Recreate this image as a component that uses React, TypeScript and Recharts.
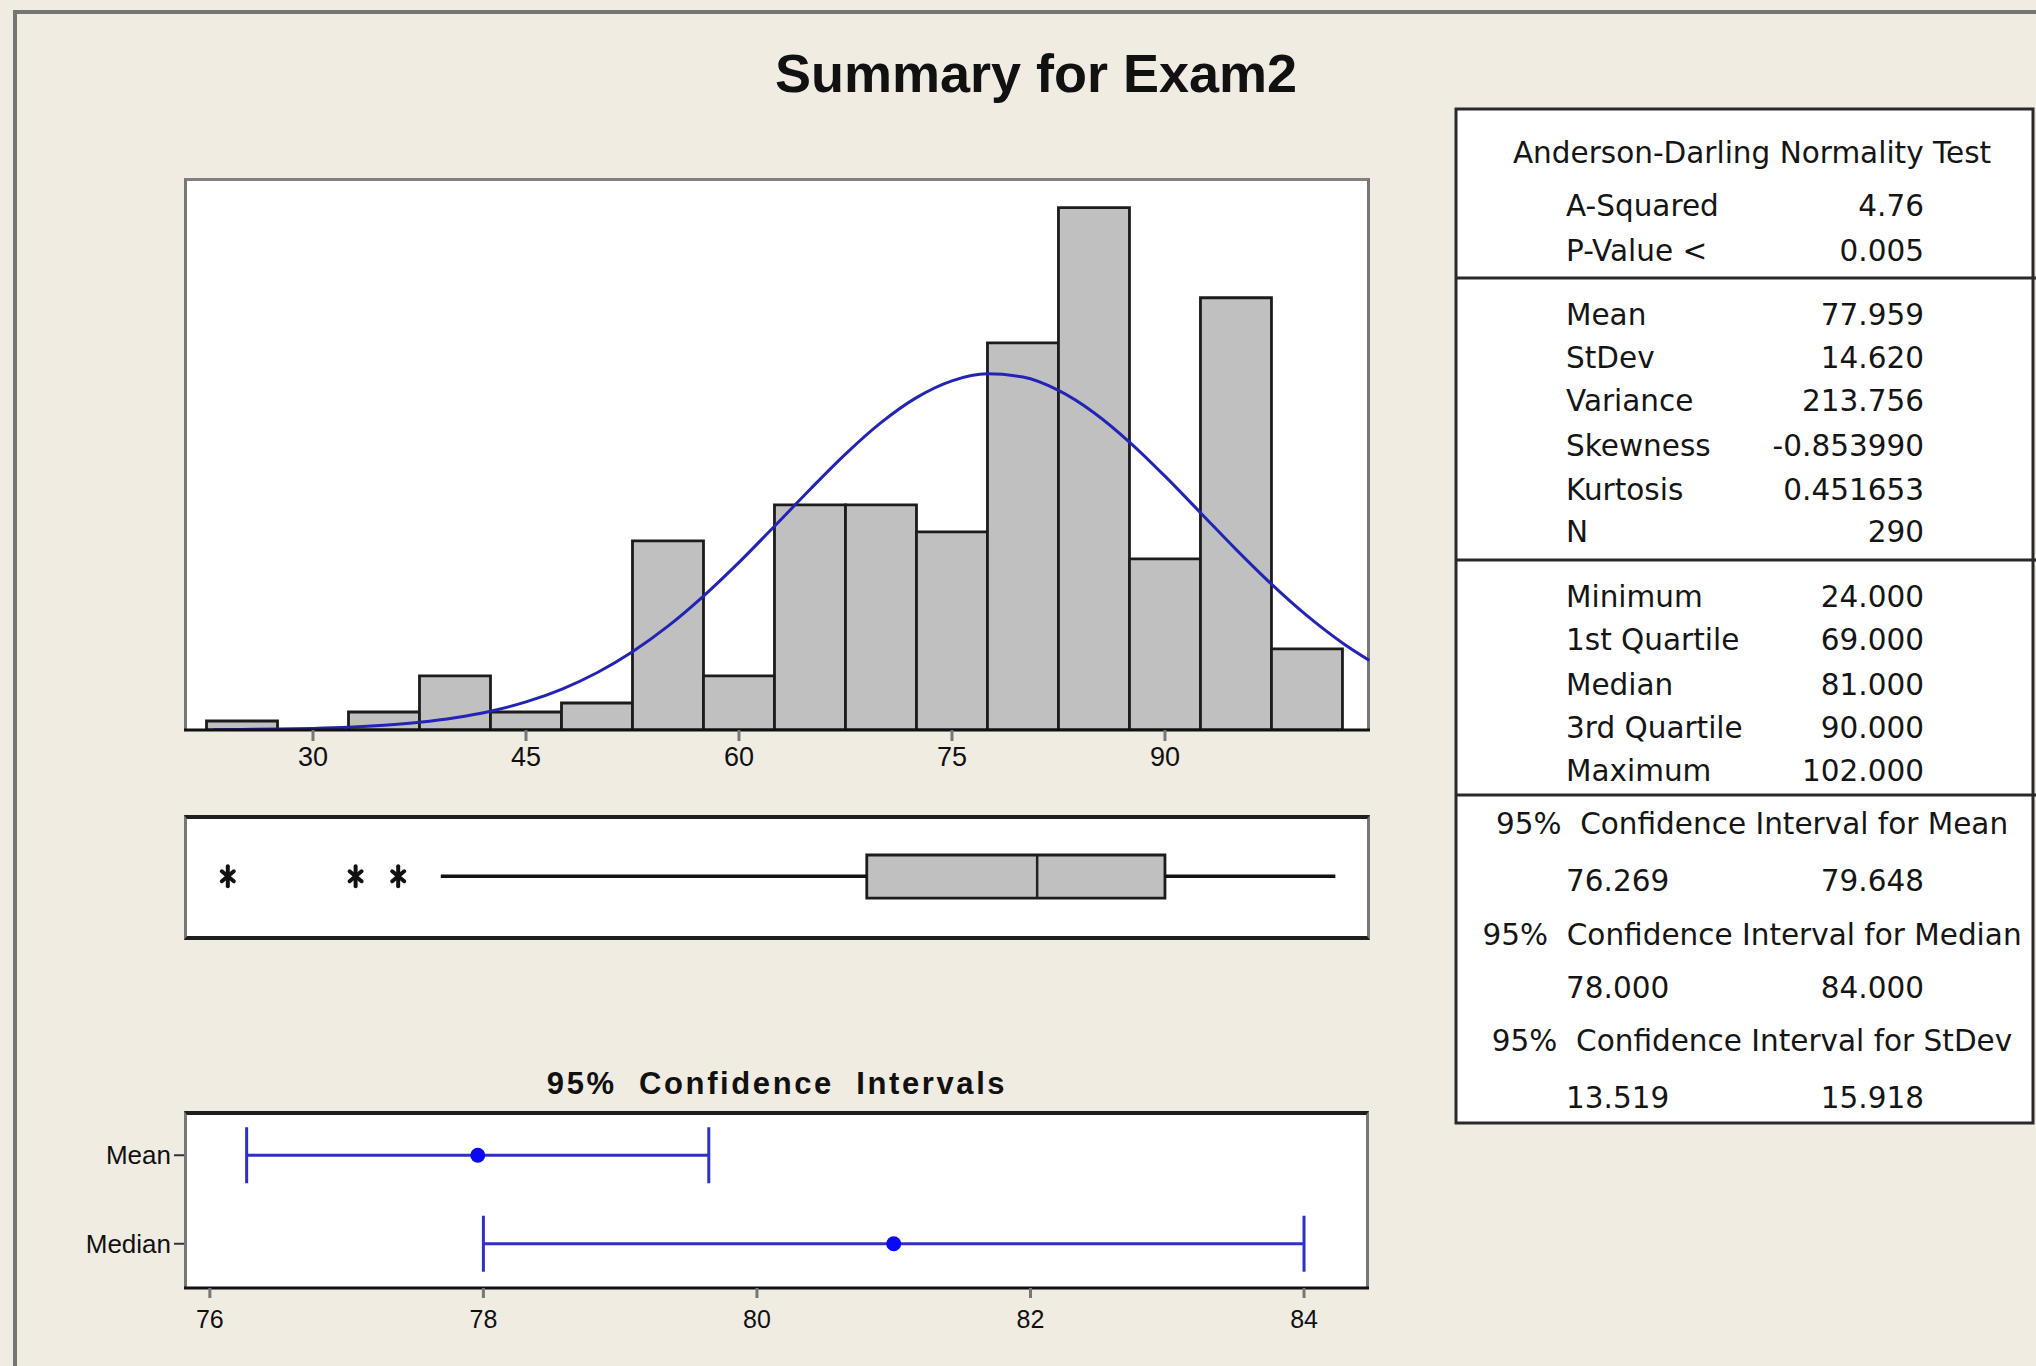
import React from 'react';
import {
  Bar, ComposedChart, ErrorBar, Line, ReferenceArea, ReferenceLine,
  Scatter, ScatterChart, XAxis, YAxis,
} from 'recharts';

// histogram bins (width 5), counts
const binMids = [25, 30, 35, 40, 45, 50, 55, 60, 65, 70, 75, 80, 85, 90, 95, 100];
const binCounts = [1, 0, 2, 6, 2, 3, 21, 6, 25, 25, 22, 43, 58, 19, 48, 9];
const binWidth = 5;

// fitted normal curve
const fitX = [23, 25, 27.5, 30, 32.5, 35, 37.5, 40, 42.5, 45, 47.5, 50, 52.5, 55, 57.5, 60, 62.5, 65, 67.5, 70, 72.5, 75, 77.5, 80, 82.5, 85, 87.5, 90, 92.5, 95, 97.5, 100, 102.5, 104.4];
const fitY = [0.03, 0.06, 0.1, 0.18, 0.31, 0.53, 0.86, 1.36, 2.09, 3.12, 4.52, 6.36, 8.69, 11.53, 14.87, 18.61, 22.63, 26.71, 30.64, 34.13, 36.91, 38.77, 39.55, 39.19, 37.71, 35.24, 31.98, 28.19, 24.13, 20.06, 16.2, 12.7, 9.67, 7.72];

const histTicks = [30, 45, 60, 75, 90];

// boxplot
const boxQ1 = 69;
const boxMedian = 81;
const boxQ3 = 90;
const whiskerLow = 39;
const whiskerHigh = 102;
const outliers = [24, 33, 36];

// 95% confidence intervals
const ciNames = ['Mean', 'Median'];
const ciPoint = [77.959, 81];
const ciLow = [76.269, 78];
const ciHigh = [79.648, 84];
const ciTicks = [76, 78, 80, 82, 84];

// summary table
const adLabels = ['A-Squared', 'P-Value <'];
const adValues = ['4.76', '0.005'];
const momentLabels = ['Mean', 'StDev', 'Variance', 'Skewness', 'Kurtosis', 'N'];
const momentValues = ['77.959', '14.620', '213.756', '-0.853990', '0.451653', '290'];
const quantLabels = ['Minimum', '1st Quartile', 'Median', '3rd Quartile', 'Maximum'];
const quantValues = ['24.000', '69.000', '81.000', '90.000', '102.000'];
const ciTitles = ['95%  Confidence Interval for Mean', '95%  Confidence Interval for Median', '95%  Confidence Interval for StDev'];
const ciTableLow = ['76.269', '78.000', '13.519'];
const ciTableHigh = ['79.648', '84.000', '15.918'];

// layout
const X_MIN = 20.915;
const X_MAX = 104.44;
const Y_MAX = 61.3;
const HIST = { left: 184, top: 178, width: 1186, height: 552 };
const BOX = { left: 184, top: 815, width: 1186, height: 125 };
const CI = { left: 184, top: 1111, width: 1185, height: 177 };
const CI_MIN = 75.811;
const CI_MAX = 84.475;
const pxPerUnit = HIST.width / (X_MAX - X_MIN);

const adRowsY = [216, 261];
const momentRowsY = [325, 368, 411, 456, 500, 542];
const quantRowsY = [607, 650, 695, 738, 781];
const ciTitleY = [834, 945, 1051];
const ciValY = [891, 998, 1108];
const dividersY = [278, 560, 795];

const BG = '#F0ECE2';
const tableFont = '"DejaVu Sans", sans-serif';
const chartFont = '"Liberation Sans", Arial, sans-serif';

const histData = binMids.map((mid, i) => ({ mid, count: binCounts[i] }));
const fitData = fitX.map((mid, i) => ({ mid, fit: fitY[i] }));
const outlierData = outliers.map((x) => ({ x, y: 0.51 }));
const ciData = ciNames.map((name, i) => ({
  name,
  est: ciPoint[i],
  err: [ciPoint[i] - ciLow[i], ciHigh[i] - ciPoint[i]],
}));

const Asterisk = (props: any) => {
  const { cx, cy } = props;
  return (
    <g stroke="#111" strokeWidth={4} strokeLinecap="round">
      <line x1={cx} y1={cy - 10} x2={cx} y2={cy + 10} />
      <line x1={cx - 6} y1={cy - 5} x2={cx + 6} y2={cy + 5} />
      <line x1={cx - 6} y1={cy + 5} x2={cx + 6} y2={cy - 5} />
    </g>
  );
};

const CiDot = (props: any) => <circle cx={props.cx} cy={props.cy} r={7.5} fill="#0a0aee" />;

function SummaryTable() {
  const labelX = 1566;
  const valueX = 1924;
  const midX = 1752;
  const txt = { fontFamily: tableFont, fontSize: 29.5, fill: '#151515' };
  return (
    <g>
      <rect x={1456} y={109} width={577} height={1014} fill="#fff" stroke="#2a2a2a" strokeWidth={3} />
      {dividersY.map((y) => (
        <line key={y} x1={1456} x2={2036} y1={y} y2={y} stroke="#2a2a2a" strokeWidth={3} />
      ))}
      <text x={midX} y={163} textAnchor="middle" {...txt}>Anderson-Darling Normality Test</text>
      {adLabels.map((l, i) => (
        <g key={l}>
          <text x={labelX} y={adRowsY[i]} {...txt}>{l}</text>
          <text x={valueX} y={adRowsY[i]} textAnchor="end" {...txt}>{adValues[i]}</text>
        </g>
      ))}
      {momentLabels.map((l, i) => (
        <g key={l}>
          <text x={labelX} y={momentRowsY[i]} {...txt}>{l}</text>
          <text x={valueX} y={momentRowsY[i]} textAnchor="end" {...txt}>{momentValues[i]}</text>
        </g>
      ))}
      {quantLabels.map((l, i) => (
        <g key={l}>
          <text x={labelX} y={quantRowsY[i]} {...txt}>{l}</text>
          <text x={valueX} y={quantRowsY[i]} textAnchor="end" {...txt}>{quantValues[i]}</text>
        </g>
      ))}
      {ciTitles.map((t, i) => (
        <g key={t}>
          <text x={midX} y={ciTitleY[i]} textAnchor="middle" style={{ whiteSpace: 'pre' }} {...txt}>{t}</text>
          <text x={labelX} y={ciValY[i]} {...txt}>{ciTableLow[i]}</text>
          <text x={valueX} y={ciValY[i]} textAnchor="end" {...txt}>{ciTableHigh[i]}</text>
        </g>
      ))}
    </g>
  );
}

export default function App() {
  const padL = (binMids[0] - binWidth / 2 - X_MIN) * pxPerUnit;
  const padR = (X_MAX - (binMids[binMids.length - 1] + binWidth / 2)) * pxPerUnit;

  return (
    <div style={{ position: 'absolute', left: 0, top: 0, width: 2036, height: 1366, overflow: 'hidden', background: BG }}>
      <div style={{ position: 'absolute', left: 13, top: 10, width: 2100, height: 1400, borderTop: '4px solid #757575', borderLeft: '4px solid #757575' }} />

      <svg width={2036} height={1366} style={{ position: 'absolute', left: 0, top: 0 }}>
        <text x={1036} y={92} textAnchor="middle" fontFamily={chartFont} fontWeight="bold" fontSize={54} fill="#111">
          Summary for Exam2
        </text>
        <text x={777} y={1094} textAnchor="middle" fontFamily={chartFont} fontWeight="bold" fontSize={31} letterSpacing={2.6} fill="#111" style={{ whiteSpace: 'pre' }}>
          95%  Confidence  Intervals
        </text>
        <SummaryTable />
      </svg>

      {/* histogram panel */}
      <div style={{ position: 'absolute', left: HIST.left, top: HIST.top, width: HIST.width, height: HIST.height, boxSizing: 'border-box', background: '#fff', borderTop: '3px solid #808080', borderLeft: '3px solid #777', borderRight: '3px solid #777' }} />
      <div style={{ position: 'absolute', left: HIST.left, top: HIST.top }}>
        <ComposedChart width={HIST.width} height={HIST.height + 50} data={histData} barCategoryGap={0} margin={{ top: 0, right: 0, bottom: 0, left: 0 }}>
          <XAxis xAxisId="bins" dataKey="mid" type="category" orientation="top" height={0} hide padding={{ left: padL, right: padR }} />
          <XAxis
            xAxisId="num"
            dataKey="mid"
            type="number"
            domain={[X_MIN, X_MAX]}
            allowDataOverflow
            ticks={histTicks}
            height={50}
            tickSize={11}
            tickMargin={6}
            axisLine={{ stroke: '#111', strokeWidth: 3 }}
            tickLine={{ stroke: '#777', strokeWidth: 3 }}
            tick={{ fontSize: 27, fill: '#111', fontFamily: chartFont }}
          />
          <YAxis hide type="number" domain={[0, Y_MAX]} allowDataOverflow />
          <Bar xAxisId="bins" dataKey="count" fill="#C0C0C0" stroke="#1c1c1c" strokeWidth={2.8} isAnimationActive={false} />
          <Line xAxisId="num" data={fitData} dataKey="fit" type="monotone" stroke="#2424b4" strokeWidth={3} dot={false} isAnimationActive={false} />
        </ComposedChart>
      </div>

      {/* boxplot panel */}
      <div style={{ position: 'absolute', left: BOX.left, top: BOX.top, width: BOX.width, height: BOX.height, boxSizing: 'border-box', background: '#fff', borderTop: '4px solid #1e1e1e', borderBottom: '4px solid #1e1e1e', borderLeft: '3px solid #777', borderRight: '3px solid #777' }} />
      <div style={{ position: 'absolute', left: BOX.left, top: BOX.top }}>
        <ComposedChart width={BOX.width} height={BOX.height} margin={{ top: 0, right: 0, bottom: 0, left: 0 }}>
          <XAxis dataKey="x" type="number" hide domain={[X_MIN, X_MAX]} allowDataOverflow />
          <YAxis dataKey="y" type="number" hide domain={[0, 1]} allowDataOverflow />
          <ReferenceLine segment={[{ x: whiskerLow, y: 0.51 }, { x: boxQ1, y: 0.51 }]} stroke="#111" strokeWidth={3.5} />
          <ReferenceLine segment={[{ x: boxQ3, y: 0.51 }, { x: whiskerHigh, y: 0.51 }]} stroke="#111" strokeWidth={3.5} />
          <ReferenceArea x1={boxQ1} x2={boxQ3} y1={0.335} y2={0.68} fill="#C0C0C0" fillOpacity={1} stroke="#1c1c1c" strokeWidth={2.8} />
          <ReferenceLine segment={[{ x: boxMedian, y: 0.335 }, { x: boxMedian, y: 0.68 }]} stroke="#222" strokeWidth={2.5} />
          <Scatter data={outlierData} dataKey="y" shape={<Asterisk />} isAnimationActive={false} />
        </ComposedChart>
      </div>

      {/* confidence interval panel */}
      <div style={{ position: 'absolute', left: CI.left, top: CI.top, width: CI.width, height: CI.height, boxSizing: 'border-box', background: '#fff', borderTop: '4px solid #1e1e1e', borderLeft: '3px solid #777', borderRight: '3px solid #777' }} />
      <div style={{ position: 'absolute', left: CI.left - 124, top: CI.top }}>
        <ScatterChart width={CI.width + 124} height={CI.height + 55} margin={{ top: 0, right: 0, bottom: 0, left: 0 }}>
          <XAxis
            type="number"
            dataKey="est"
            domain={[CI_MIN, CI_MAX]}
            allowDataOverflow
            ticks={ciTicks}
            height={55}
            tickSize={10}
            tickMargin={12}
            axisLine={{ stroke: '#111', strokeWidth: 3 }}
            tickLine={{ stroke: '#777', strokeWidth: 3 }}
            tick={{ fontSize: 25, fill: '#111', fontFamily: chartFont }}
          />
          <YAxis
            type="category"
            dataKey="name"
            reversed
            width={124}
            axisLine={false}
            tickSize={10}
            tickMargin={3}
            tickLine={{ stroke: '#333', strokeWidth: 2 }}
            tick={{ fontSize: 26, fill: '#111', fontFamily: chartFont }}
          />
          <Scatter data={ciData} shape={<CiDot />} isAnimationActive={false}>
            <ErrorBar dataKey="err" direction="x" width={28} stroke="#3030c0" strokeWidth={3} />
          </Scatter>
        </ScatterChart>
      </div>
    </div>
  );
}
